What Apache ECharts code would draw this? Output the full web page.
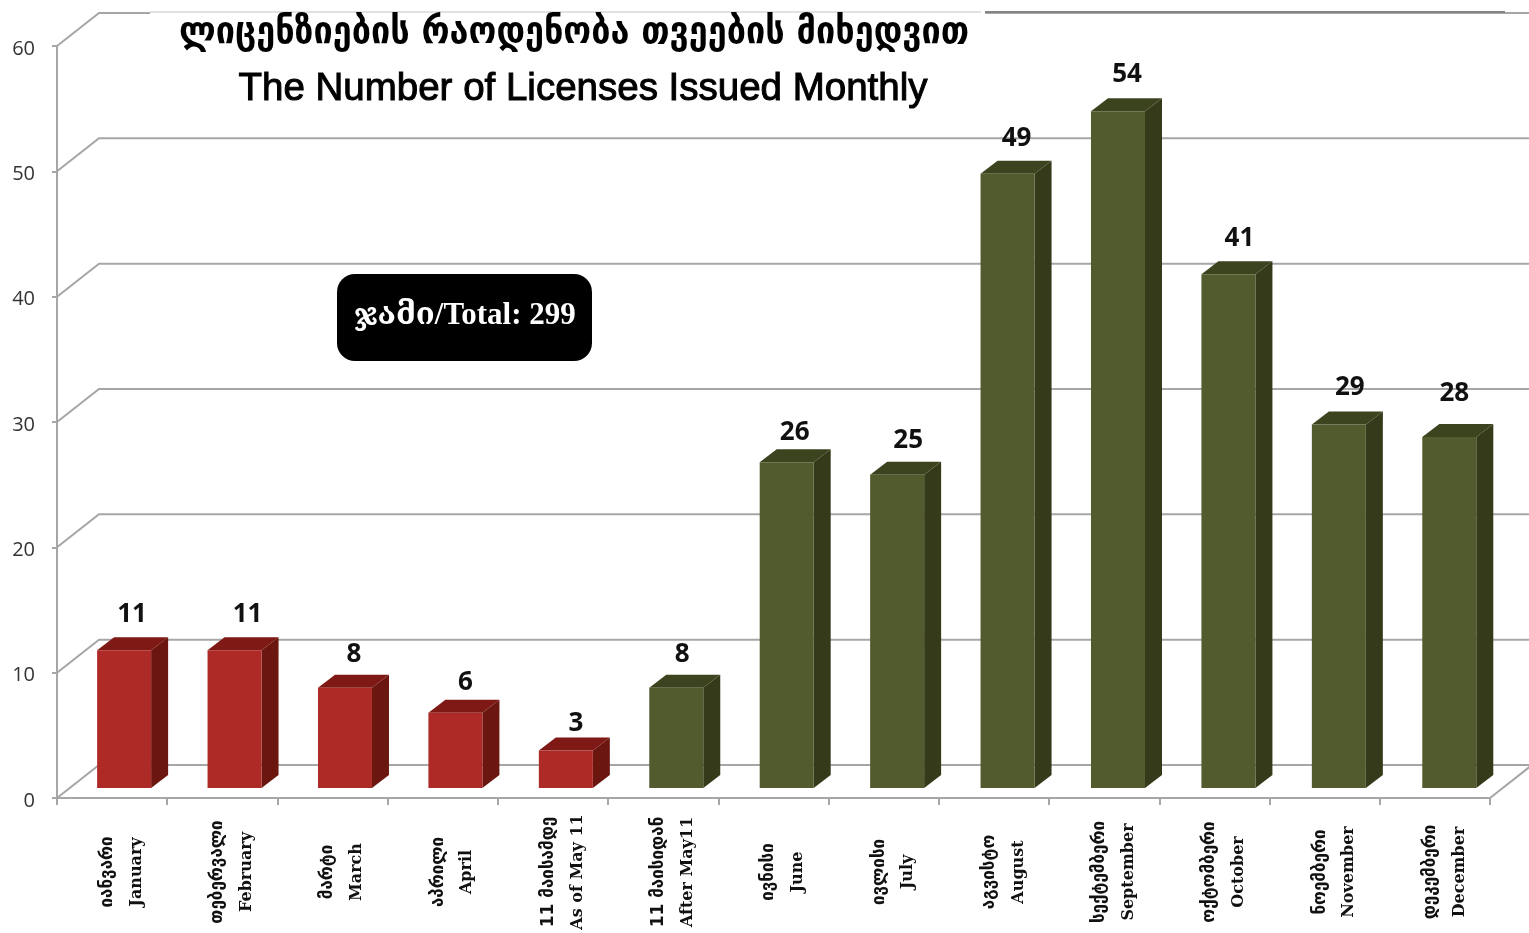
<!DOCTYPE html>
<html>
<head>
<meta charset="utf-8">
<style>
  html, body { margin: 0; padding: 0; background: #fff; }
  #chart { width: 1529px; height: 933px; }
</style>
</head>
<body>
<div id="chart"></div>
<script src="https://cdn.jsdelivr.net/npm/echarts@6/dist/echarts.min.js"></script>
<script>
const categoriesKa = [
  'იანვარი', 'თებერვალი', 'მარტი', 'აპრილი', '11 მაისამდე', '11 მაისიდან', 'ივნისი',
  'ივლისი', 'აგვისტო', 'სექტემბერი', 'ოქტომბერი', 'ნოემბერი', 'დეკემბერი'
]
const categoriesEn = [
  'January', 'February', 'March', 'April', 'As of May 11', 'After May11', 'June',
  'July', 'August', 'September', 'October', 'November', 'December'
]
const beforeMay11 = [11, 11, 8, 6, 3]
const afterMay11 = [8, 26, 25, 49, 54, 41, 29, 28]
const wallTicks = [0, 10, 20, 30, 40, 50, 60]
// the value labels were placed by hand in the original
const labelNudge = [
  [0, 1], [5, 1], [1, 4], [2, 7], [2, 10], [-2, 4], [0, 7],
  [3, 3], [1, 2], [1, 0], [3, 1], [3, 0], [-3, -6]
]

const titleKa = 'ლიცენზიების რაოდენობა თვეების მიხედვით'
const titleEn = 'The Number of Licenses Issued Monthly'
const totalText = 'ჯამი/Total: 299'

const gridColor = '#a6a6a6'
const depthX = 17
const depthY = -13
const wallX = 42
const wallY = -33

const chart = echarts.init(document.getElementById('chart'))

// fake 3d column: front, side and top faces plus the value on top
const renderBar = (colors) => (params, api) => {
  const idx = api.value(0)
  const val = api.value(1)
  const top = api.coord([idx, val])
  const w = 54
  const x = top[0] - 15 + idx * 0.2
  const y = top[1] - 10
  const bottom = api.coord([idx, 0])[1] - 10
  const nudge = labelNudge[idx]
  return {
    type: 'group',
    children: [
      {
        type: 'polygon',
        shape: { points: [[x + w, y], [x + w + depthX, y + depthY], [x + w + depthX, bottom + depthY], [x + w, bottom]] },
        style: { fill: colors.side }
      },
      {
        type: 'polygon',
        shape: { points: [[x, y], [x + depthX, y + depthY], [x + w + depthX, y + depthY], [x + w, y]] },
        style: { fill: colors.top }
      },
      {
        type: 'rect',
        shape: { x: x, y: y, width: w, height: bottom - y },
        style: { fill: colors.front }
      },
      {
        type: 'text',
        style: {
          x: x + w / 2 + 8 + nudge[0],
          y: y - 37 + nudge[1],
          text: String(val),
          align: 'center',
          verticalAlign: 'middle',
          font: 'bold 26px "Open Sans"',
          fill: '#111'
        }
      }
    ]
  }
}

const renderWall = (params, api) => {
  const val = api.value(1)
  const p = api.coord([0, val])
  const left = params.coordSys.x
  const right = params.coordSys.x + params.coordSys.width
  const children = [{
    type: 'polyline',
    shape: { points: [[left, p[1]], [left + wallX, p[1] + wallY], [1529, p[1] + wallY]] },
    style: { stroke: gridColor, lineWidth: 2, fill: 'none' }
  }]
  if (val === 0) {
    children.push({
      type: 'line',
      shape: { x1: right, y1: p[1], x2: right + wallX, y2: p[1] + wallY },
      style: { stroke: gridColor, lineWidth: 2 }
    })
  }
  return { type: 'group', children: children }
}

const option = {
  animation: false,
  backgroundColor: '#fff',
  grid: { left: 57, top: 46, width: 1433, height: 752, outerBoundsMode: 'none' },
  xAxis: {
    type: 'category',
    data: categoriesEn,
    boundaryGap: true,
    axisLine: { show: true, lineStyle: { color: gridColor, width: 2 } },
    axisTick: { show: true, length: 7, lineStyle: { color: gridColor, width: 2 } },
    axisLabel: {
      interval: 0,
      rotate: 90,
      margin: 74,
      align: 'center',
      verticalAlign: 'middle',
      padding: [20, 0, 0, 0],
      formatter: (value, index) => `{ka|${categoriesKa[index]}}\n{en|${value}}`,
      rich: {
        ka: { fontFamily: 'DejaVu Sans', fontWeight: 'bold', fontSize: 17, lineHeight: 29, color: '#111' },
        en: { fontFamily: 'DejaVu Serif', fontWeight: 'bold', fontSize: 16, lineHeight: 29, color: '#111' }
      }
    }
  },
  yAxis: {
    type: 'value',
    min: 0,
    max: 60,
    interval: 10,
    axisLine: { show: true, lineStyle: { color: gridColor, width: 2 } },
    axisTick: { show: true, length: 5, lineStyle: { color: gridColor, width: 2 } },
    axisLabel: { margin: 22, verticalAlign: 'top', lineHeight: 6, fontFamily: 'Open Sans', fontSize: 20, color: '#333' },
    splitLine: { show: false }
  },
  series: [
    {
      type: 'custom',
      z: 1,
      renderItem: renderWall,
      data: wallTicks.map((t) => [0, t]),
      silent: true
    },
    {
      type: 'custom',
      z: 2,
      renderItem: renderBar({ front: '#ae2a27', side: '#6b1710', top: '#7e1916' }),
      data: beforeMay11.map((v, i) => [i, v])
    },
    {
      type: 'custom',
      z: 2,
      renderItem: renderBar({ front: '#525b2e', side: '#353b1a', top: '#3c441f' }),
      data: afterMay11.map((v, i) => [i + beforeMay11.length, v])
    }
  ],
  graphic: [
    // the top wall line was retouched under the title in the original
    {
      type: 'rect',
      z: 9,
      shape: { x: 150, y: 10, width: 835, height: 4 },
      style: { fill: '#fff' }
    },
    {
      type: 'line',
      z: 9,
      shape: { x1: 150, y1: 12, x2: 981, y2: 12 },
      style: { stroke: '#c4c4c4', lineWidth: 1 }
    },
    {
      type: 'line',
      z: 9,
      shape: { x1: 985, y1: 12, x2: 1505, y2: 12 },
      style: { stroke: '#858585', lineWidth: 2 }
    },
    {
      type: 'rect',
      z: 10,
      shape: { x: 337, y: 274, width: 255, height: 87, r: 18 },
      style: { fill: '#000' }
    },
    {
      type: 'text',
      z: 11,
      style: {
        x: 465,
        y: 316,
        text: totalText,
        align: 'center',
        verticalAlign: 'middle',
        font: 'bold 31px "Liberation Serif", "DejaVu Serif"',
        fill: '#fff'
      }
    },
    {
      type: 'text',
      z: 11,
      style: {
        x: 574,
        y: 33,
        text: titleKa,
        align: 'center',
        verticalAlign: 'middle',
        font: 'bold 38px "DejaVu Sans Condensed", "DejaVu Sans"',
        fill: '#000'
      }
    },
    {
      type: 'text',
      z: 11,
      style: {
        x: 583,
        y: 89,
        text: titleEn,
        align: 'center',
        verticalAlign: 'middle',
        font: '38.5px "Liberation Sans"',
        fill: '#000',
        stroke: '#000',
        lineWidth: 1
      }
    }
  ]
}

chart.setOption(option)
window.addEventListener('resize', () => chart.resize())
</script>
</body>
</html>
